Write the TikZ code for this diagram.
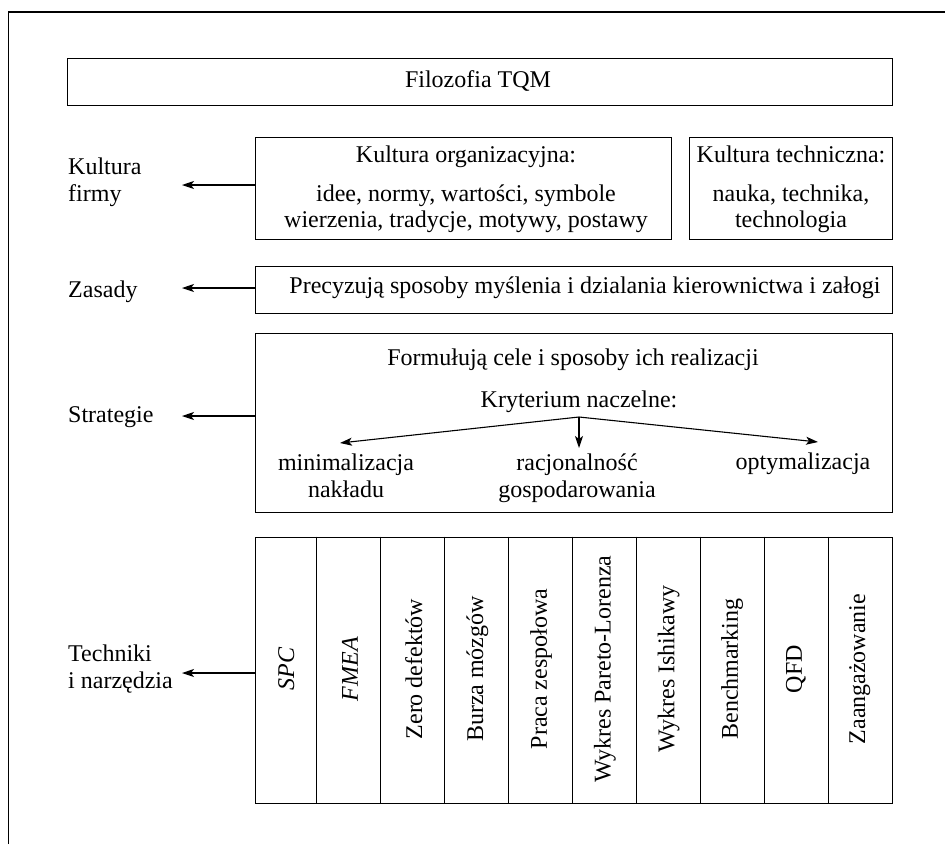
\documentclass[tikz,border=0pt]{standalone}
\usepackage{fontspec}
\setmainfont{Liberation Serif}
\usetikzlibrary{arrows.meta}
\begin{document}
\begin{tikzpicture}[x=1pt,y=-1pt,
  every node/.style={font=\fontsize{24}{26.5}\selectfont, inner sep=0pt},
  box/.style={draw, line width=1.1pt, anchor=north west},
  lbl/.style={anchor=base west, align=left},
  txt/.style={anchor=base},
  conn/.style={line width=1.1pt, -{Stealth[length=12pt,width=8pt,inset=3pt]}},
  cell/.style={rotate=90, anchor=center}]
\useasboundingbox (0,0) rectangle (945,844);
% outer frame (only its top and left sides fall inside the page)
\draw[line width=1.5pt] (8.5,844) -- (8.5,12) -- (945,12);

% top box
\node[box, minimum width=825pt, minimum height=47pt] (tqm) at (66.5,57.5) {};
\node[anchor=center] (tqmt) at (478,81) {Filozofia TQM};

% culture boxes
\node[box, minimum width=416pt, minimum height=102pt] (org) at (254.5,136.5) {};
\node[txt] (orgt1) at (466,162) {Kultura organizacyjna:};
\node[txt] (orgt2) at (466,201) {idee, normy, wartości, symbole};
\node[txt] (orgt3) at (466,227) {wierzenia, tradycje, motywy, postawy};

\node[box, minimum width=203pt, minimum height=102pt] (tech) at (688.5,136.5) {};
\node[txt] (techt1) at (791,162) {Kultura techniczna:};
\node[txt] (techt2) at (791,201) {nauka, technika,};
\node[txt] (techt3) at (791,227) {technologia};

% principles
\node[box, minimum width=637pt, minimum height=47pt] (zas) at (254.5,265.5) {};
\node[anchor=center] (zast) at (585,288) {Precyzują sposoby myślenia i dzialania kierownictwa i załogi};

% strategies
\node[box, minimum width=637pt, minimum height=179pt] (str) at (254.5,332.5) {};
\node[txt] (strt1) at (573,365) {Formułują cele i sposoby ich realizacji};
\node[txt] (strt2) at (579,407) {Kryterium naczelne:};
\coordinate (split) at (579,417);
\coordinate (tipL) at (340,443);
\coordinate (tipM) at (579,448);
\coordinate (tipR) at (818,442);
\node[txt, align=center] (minn) at (346,497) {minimalizacja\\nakładu};
\node[txt, align=center] (racj) at (577,497) {racjonalność\\gospodarowania};
\node[txt] (opt) at (803,469) {optymalizacja};
\draw[conn] (split) -- (tipL);
\draw[conn] (split) -- (tipM);
\draw[conn] (split) -- (tipR);

% techniques and tools: one column per method, titles turned upright
\node[box, minimum width=637pt, minimum height=266pt] (tab) at (254.5,536.5) {};
\foreach \x in {316.5,380.5,444.5,508.5,572.5,636.5,700.5,764.5,828.5}
  \draw[line width=1.1pt] (\x,536.5) -- (\x,802.5);
\foreach [count=\i] \t in {\textit{SPC}, \textit{FMEA}, Zero defektów, Burza mózgów,
    Praca zespołowa, Wykres Pareto-Lorenza, Wykres Ishikawy, Benchmarking, QFD, Zaangażowanie}
  \node[cell] (c\i) at (254.5+63.7*\i-31.85,669) {\t};

% left-hand labels and their arrows
\node[lbl] (kf) at (68,201) {Kultura\\firmy};
\node[lbl] (zl) at (68,297) {Zasady};
\node[lbl] (sl) at (68,422) {Strategie};
\node[lbl] (tl) at (68,688) {Techniki\\i narzędzia};
\coordinate (kfa) at (182,185);
\coordinate (zla) at (182,288);
\coordinate (sla) at (182,416);
\coordinate (tla) at (182,673);
\draw[conn] (org.west |- kfa) -- (kfa);
\draw[conn] (zas.west |- zla) -- (zla);
\draw[conn] (str.west |- sla) -- (sla);
\draw[conn] (tab.west |- tla) -- (tla);
\end{tikzpicture}
\end{document}
